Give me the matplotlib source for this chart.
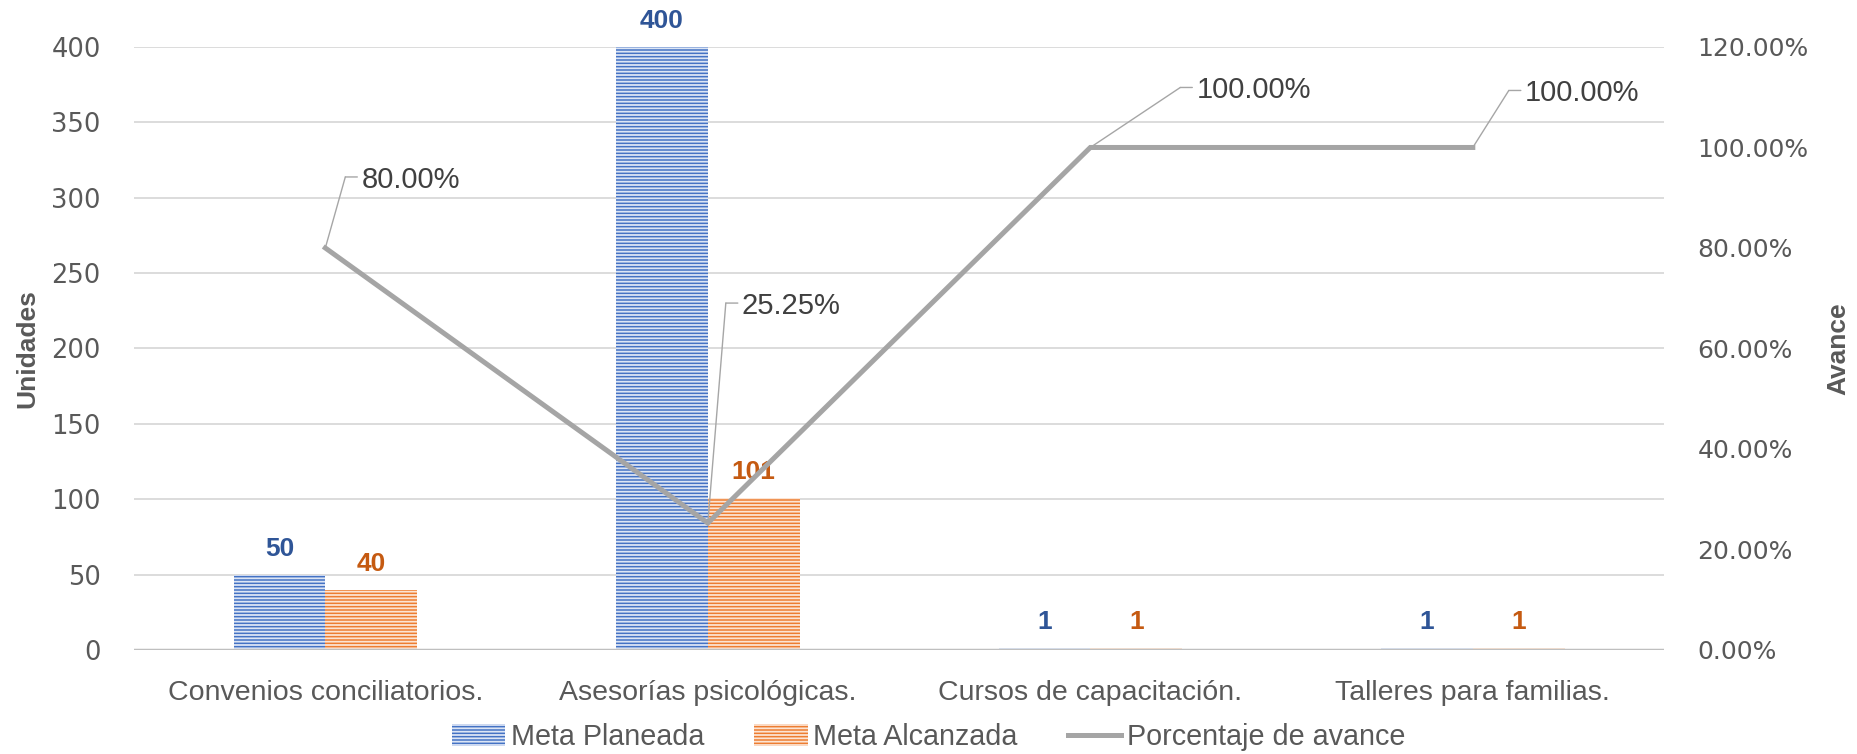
import matplotlib
matplotlib.use("Agg")
import matplotlib.pyplot as plt
from matplotlib.transforms import offset_copy
from matplotlib.lines import Line2D
from matplotlib.patches import Patch
import numpy as np

categories = ["Convenios conciliatorios.", "Asesorías psicológicas.",
              "Cursos de capacitación.", "Talleres para familias."]
meta_planeada = [50, 400, 1, 1]
meta_alcanzada = [40, 101, 1, 1]
avance = [0.80, 0.2525, 1.00, 1.00]
avance_labels = ["80.00%", "25.25%", "100.00%", "100.00%"]

BLUE = "#4472C4"
ORANGE = "#ED7D31"
GRAY_LINE = "#A5A5A5"
TICK = "#595959"
SANS = ["Liberation Sans", "DejaVu Sans"]

plt.rcParams["hatch.linewidth"] = 1.3

fig = plt.figure(figsize=(18.57, 7.54), dpi=100)
ax = fig.add_axes([0.0722, 0.138, 0.8239, 0.7997])
ax2 = ax.twinx()

x = np.arange(len(categories))
w = 0.24

bars1 = ax.bar(x - w / 2, meta_planeada, w, facecolor=BLUE,
               edgecolor="#DCE5F5", hatch="-----", linewidth=0, zorder=3)
bars2 = ax.bar(x + w / 2, meta_alcanzada, w, facecolor=ORANGE,
               edgecolor="#FCE4D3", hatch="-----", linewidth=0, zorder=3)

for bars, vals, col in ((bars1, meta_planeada, "#2F5597"),
                        (bars2, meta_alcanzada, "#C55A11")):
    for b, v in zip(bars, vals):
        ax.annotate(str(v), (b.get_x() + b.get_width() / 2, v), xytext=(0, 26),
                    textcoords="offset pixels", ha="center", va="center",
                    fontsize=19, fontweight="bold", color=col,
                    fontfamily=SANS, zorder=5)

ax.set_xlim(-0.5, len(categories) - 0.5)
ax.set_ylim(0, 400)
ax.set_yticks(np.arange(0, 401, 50))
ax2.set_ylim(0, 1.2)
ax2.set_yticks(np.arange(0, 1.21, 0.2))
ax2.set_yticklabels([f"{t * 100:.2f}%" for t in np.arange(0, 1.21, 0.2)])

ax.grid(axis="y", color="#D9D9D9", linewidth=1.3, zorder=0)
ax.set_axisbelow(True)
for a in (ax, ax2):
    for s in a.spines.values():
        s.set_visible(False)
ax.axhline(0, color="#BFBFBF", linewidth=2.5, zorder=4)

ax.set_xticks(x)
ax.set_xticklabels(categories, fontsize=20.5, color=TICK, fontfamily=SANS)
ax.tick_params(axis="x", length=0, pad=21.5)
ax.tick_params(axis="y", length=0, pad=24, labelsize=18.5, labelcolor=TICK)
ax2.tick_params(axis="y", length=0, pad=24, labelsize=18, labelcolor=TICK)

ax2.plot(x, avance, color=GRAY_LINE, linewidth=3.6, zorder=4,
         solid_joinstyle="miter")
ax2.set_zorder(ax.get_zorder() + 1)
ax2.patch.set_visible(False)

# leader offsets (pixels) from each point to the corner of its leader line
leaders = [(20, 71), (18, 220), (90, 60), (36, 57)]
for xi, yi, lab, (cx, cy) in zip(x, avance, avance_labels, leaders):
    t_corner = offset_copy(ax2.transData, fig=fig, x=cx, y=cy, units="dots")
    t_end = offset_copy(ax2.transData, fig=fig, x=cx + 12, y=cy, units="dots")
    ax2.annotate("", xy=(xi, yi), xycoords="data", xytext=(xi, yi),
                 textcoords=t_corner,
                 arrowprops=dict(arrowstyle="-", color="#A6A6A6", lw=1,
                                 shrinkA=0, shrinkB=0))
    ax2.annotate("", xy=(xi, yi), xycoords=t_corner, xytext=(xi, yi),
                 textcoords=t_end,
                 arrowprops=dict(arrowstyle="-", color="#A6A6A6", lw=1,
                                 shrinkA=0, shrinkB=0))
    ax2.annotate(lab, (xi, yi), xytext=(cx + 16, cy), textcoords="offset pixels",
                 ha="left", va="center_baseline", fontsize=21, color="#404040",
                 fontfamily=SANS)

fig.text(0.015, 0.5377, "Unidades", rotation=90, ha="center", va="center",
         fontsize=19, fontweight="bold", color=TICK, fontfamily=SANS)
fig.text(0.990, 0.5377, "Avance", rotation=90, ha="center", va="center",
         fontsize=19, fontweight="bold", color=TICK, fontfamily=SANS)

handles = [Patch(facecolor=BLUE, edgecolor="#DCE5F5", hatch="-----", linewidth=0),
           Patch(facecolor=ORANGE, edgecolor="#FCE4D3", hatch="-----", linewidth=0),
           Line2D([0], [0], color=GRAY_LINE, linewidth=3.6)]
fig.legend(handles, ["Meta Planeada", "Meta Alcanzada", "Porcentaje de avance"],
           loc="center", bbox_to_anchor=(0.5, 1 - 737 / 754), ncol=3,
           frameon=False, handlelength=1.85, handleheight=0.75, handletextpad=0.2,
           columnspacing=1.75, prop={"family": SANS, "size": 20.7},
           labelcolor=TICK)

fig.savefig("out.png", dpi=100, facecolor="white")
